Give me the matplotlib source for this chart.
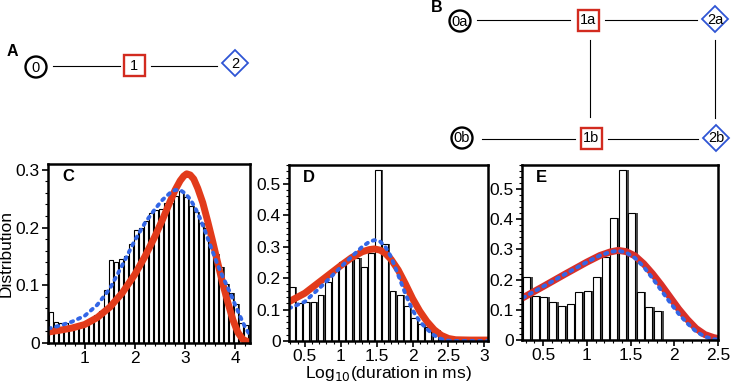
import numpy as np
import matplotlib
matplotlib.use("Agg")
from matplotlib import pyplot as plt
from matplotlib.patches import Circle, Rectangle, Polygon
from matplotlib.ticker import MultipleLocator, FuncFormatter

plt.rcParams['font.family'] = ['Liberation Sans', 'DejaVu Sans']

# ---- histogram data (bin width 0.1 in log10 ms) ----
c_start = 0.28
c_hist = [0.053, 0.037, 0.035, 0.034, 0.024, 0.029, 0.029, 0.031, 0.035, 0.048,
          0.055, 0.092, 0.144, 0.140, 0.146, 0.151, 0.171, 0.196, 0.199, 0.212,
          0.225, 0.231, 0.232, 0.243, 0.242, 0.255, 0.264, 0.253, 0.237, 0.227,
          0.208, 0.199, 0.164, 0.155, 0.132, 0.103, 0.086, 0.068, 0.035, 0.031]
d_start = 0.28
d_hist = [0.173, 0.122, 0.125, 0.125, 0.145, 0.188, 0.222, 0.250, 0.262, 0.265,
          0.237, 0.279, 0.545, 0.310, 0.159, 0.145, 0.111, 0.074, 0.055, 0.045,
          0.035, 0.018, 0.010, 0.010, 0.010, 0.010]
e_start = 0.27
e_hist = [0.210, 0.146, 0.143, 0.127, 0.114, 0.118, 0.158, 0.161, 0.210, 0.275,
          0.405, 0.565, 0.420, 0.158, 0.110, 0.097]

# ---- fitted curves ----
c_x = [0.28, 0.5, 0.75, 1.0, 1.25, 1.5, 1.75, 2.0, 2.2, 2.4, 2.55, 2.7, 2.8, 2.9,
       2.97, 3.03, 3.1, 3.17, 3.25, 3.35, 3.45, 3.55, 3.65, 3.75, 3.85, 3.95,
       4.05, 4.15, 4.28]
c_red = [0.019, 0.022, 0.026, 0.032, 0.044, 0.062, 0.087, 0.119, 0.150, 0.185,
         0.214, 0.245, 0.265, 0.281, 0.289, 0.293, 0.291, 0.284, 0.268, 0.243,
         0.210, 0.175, 0.138, 0.102, 0.070, 0.040, 0.018, 0.006, 0.001]
c_bx = [0.28, 0.5, 0.75, 1.0, 1.25, 1.5, 1.75, 2.0, 2.2, 2.4, 2.55, 2.7, 2.8, 2.9,
        3.0, 3.1, 3.2, 3.3, 3.4, 3.5, 3.6, 3.7, 3.8, 3.9, 4.0, 4.1, 4.2, 4.28]
c_blue = [0.025, 0.030, 0.037, 0.047, 0.066, 0.094, 0.135, 0.178, 0.208, 0.232,
          0.248, 0.260, 0.265, 0.265, 0.259, 0.249, 0.234, 0.215, 0.193, 0.169,
          0.146, 0.124, 0.105, 0.086, 0.065, 0.045, 0.026, 0.015]

d_x = [0.28, 0.5, 0.75, 1.0, 1.15, 1.3, 1.4, 1.47, 1.55, 1.62, 1.7, 1.8, 1.9, 2.0,
       2.1, 2.2, 2.3, 2.4, 2.5, 2.6, 2.8, 3.05]
d_red = [0.125, 0.152, 0.196, 0.240, 0.265, 0.284, 0.291, 0.293, 0.289, 0.279,
         0.260, 0.226, 0.182, 0.135, 0.095, 0.062, 0.036, 0.018, 0.008, 0.004,
         0.003, 0.003]
d_blue = [0.104, 0.125, 0.178, 0.235, 0.268, 0.300, 0.316, 0.321, 0.316, 0.300,
          0.268, 0.210, 0.150, 0.098, 0.062, 0.038, 0.018, 0.006, 0.001, 0.0,
          0.0, 0.0]

e_x = [0.27, 0.5, 0.75, 1.0, 1.15, 1.27, 1.36, 1.45, 1.55, 1.65, 1.75, 1.85, 1.95,
       2.05, 2.15, 2.25, 2.35, 2.45, 2.5]
e_red = [0.140, 0.177, 0.218, 0.258, 0.280, 0.292, 0.297, 0.293, 0.279, 0.253,
         0.220, 0.183, 0.143, 0.103, 0.068, 0.038, 0.018, 0.008, 0.005]
e_blue = [0.140, 0.177, 0.218, 0.258, 0.280, 0.292, 0.296, 0.290, 0.272, 0.243,
          0.205, 0.165, 0.125, 0.087, 0.055, 0.028, 0.011, 0.003, 0.001]

# ---- network diagrams (pixel layout) ----
a_nodes = [("0", "circle", 36, 67), ("1", "square", 134, 65), ("2", "diamond", 235, 63)]
a_edges = [(53, 66, 120, 66), (151, 66, 217, 66)]
b_nodes = [("0a", "circle", 460, 21), ("1a", "square", 588, 20), ("2a", "diamond", 715, 19),
           ("0b", "circle", 462, 138), ("1b", "square", 591, 138), ("2b", "diamond", 716, 138)]
b_edges = [(477, 20, 570, 20), (605, 20, 697, 20), (590, 40, 590, 117),
           (715, 40, 715, 118), (482, 139, 575, 139), (608, 139, 698, 139)]

fig = plt.figure(figsize=(7.33, 3.88), dpi=100)

# overlay axes in pixel coordinates for the diagrams
ov = fig.add_axes([0, 0, 1, 1])
ov.set_xlim(0, 733)
ov.set_ylim(388, 0)
ov.axis('off')


def draw_node(ax, label, kind, x, y):
    if kind == "circle":
        ax.add_patch(Circle((x, y), 10.5, fill=False, ec='black', lw=1.7))
    elif kind == "square":
        ax.add_patch(Rectangle((x - 10.5, y - 10.5), 21, 21, fill=False, ec='#d22b1f', lw=1.7))
    else:
        r = 13
        ax.add_patch(Polygon([(x, y - r), (x + r, y), (x, y + r), (x - r, y)],
                             closed=True, fill=False, ec='#2f55d4', lw=1.3))
    ax.text(x, y + 0.5, label, ha='center', va='center', fontsize=10.5)


for x1, y1, x2, y2 in a_edges + b_edges:
    ov.plot([x1, x2], [y1, y2], color='black', lw=0.8)
for n in a_nodes + b_nodes:
    draw_node(ov, *n)
ov.text(12, 52, "A", fontsize=11.5, fontweight='bold', ha='center', va='center')
ov.text(437, 8, "B", fontsize=11.5, fontweight='bold', ha='center', va='center')

W, H = 733.0, 388.0


def box(l, r, t, b):
    return [l / W, 1 - b / H, (r - l) / W, (b - t) / H]


def fmt(v, pos):
    s = ("%.1f" % v)
    if s.endswith(".0"):
        s = s[:-2]
    return s


def panel(rect, start, hist, xs, red, bxs, blue, xlim, ylim, xmaj, xmin, letter, redc):
    ax = fig.add_axes(rect)
    edges = start + 0.1 * np.arange(len(hist))
    ax.bar(edges + 0.025, hist, width=0.085, align='edge', color='#4a4a4a', lw=0)
    ax.bar(edges, hist, width=0.08, align='edge', facecolor='white',
           edgecolor='black', lw=0.8)
    ax.plot(xs, red, color=redc, lw=5, solid_capstyle='round', solid_joinstyle='round')
    ax.plot(bxs, blue, color='#3366e6', lw=2.8, linestyle=(0, (0.6, 1.4)),
            dash_capstyle='round')
    ax.set_xlim(*xlim)
    ax.set_ylim(*ylim)
    ax.xaxis.set_major_locator(MultipleLocator(xmaj))
    ax.xaxis.set_minor_locator(MultipleLocator(xmin))
    ax.yaxis.set_major_locator(MultipleLocator(0.1))
    ax.yaxis.set_minor_locator(MultipleLocator(0.02))
    ax.xaxis.set_major_formatter(FuncFormatter(fmt))
    ax.yaxis.set_major_formatter(FuncFormatter(fmt))
    ax.tick_params(which='major', direction='out', length=4, width=1.2, labelsize=12.5,
                   pad=2)
    ax.tick_params(which='minor', direction='out', length=2.5, width=0.8)
    for s in ax.spines.values():
        s.set_linewidth(1.8)
    ax.text(0.07, 0.93, letter, transform=ax.transAxes, fontsize=12,
            fontweight='bold', ha='left', va='center')
    return ax


axc = panel(box(48, 250, 164, 343), c_start, c_hist, c_x, c_red, c_bx, c_blue,
            (0.27, 4.29), (0, 0.31), 1, 0.2, "C", '#e23b1b')
axc.set_ylabel("Distribution", fontsize=12.5, labelpad=1)
axd = panel(box(289, 488, 165, 341), d_start, d_hist, d_x, d_red, d_x, d_blue,
            (0.28, 3.05), (0, 0.56), 0.5, 0.1, "D", '#e23b1b')
axd.set_xlabel("Log$_{10}$(duration in ms)", fontsize=12.5, labelpad=0)
axe = panel(box(522, 718, 165, 340), e_start, e_hist, e_x, e_red, e_x, e_blue,
            (0.26, 2.5), (0, 0.58), 0.5, 0.1, "E", '#d8302a')

fig.savefig("out.png", dpi=100)
